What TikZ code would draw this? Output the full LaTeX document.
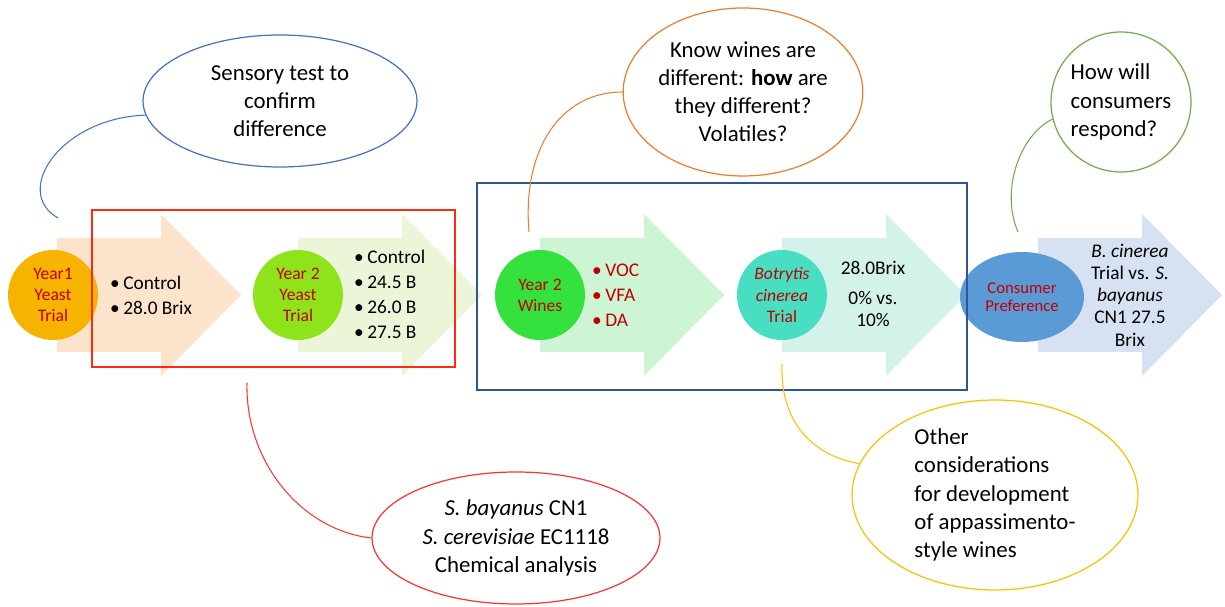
\documentclass[tikz,border=0pt]{standalone}
\usepackage{fontspec}
\setmainfont{Carlito}
\usetikzlibrary{shapes.geometric}
\definecolor{txtred}{HTML}{C00000}
\definecolor{arrowA}{HTML}{FCE4CC}
\definecolor{arrowB}{HTML}{EBF5D7}
\definecolor{arrowC}{HTML}{CEF5D3}
\definecolor{arrowD}{HTML}{D3F2EA}
\definecolor{arrowE}{HTML}{D6E1F1}
\definecolor{stageA}{HTML}{F6B300}
\definecolor{stageB}{HTML}{8FE31B}
\definecolor{stageC}{HTML}{34E13D}
\definecolor{stageD}{HTML}{47DEC2}
\definecolor{stageE}{HTML}{5B9BD5}
\definecolor{boxred}{HTML}{FF2A12}
\definecolor{boxblue}{HTML}{2F5597}
\definecolor{lnblue}{HTML}{4472C4}
\definecolor{lnorange}{HTML}{ED7D31}
\definecolor{lngreen}{HTML}{70AD47}
\definecolor{lnred}{HTML}{FF3333}
\definecolor{lnyellow}{HTML}{FFC000}

\begin{document}
\begin{tikzpicture}[x=0.02cm,y=-0.02cm,
    stage/.style={circle,minimum size=1.8cm,inner sep=0pt,align=center,text=txtred,font=\fontsize{10}{12}\selectfont},
    bullets/.style={anchor=west,align=left,font=\fontsize{11}{14.2}\selectfont},
    callout/.style={ellipse,draw,line width=0.7pt,inner sep=0pt,align=center,font=\fontsize{13}{16}\selectfont},
    link/.style={line width=0.6pt}]
  \useasboundingbox (0,0) rectangle (1225,607);

  \foreach \xs/\col in {57/arrowA,298/arrowB,540/arrowC,782/arrowD,1038/arrowE}
    \fill[\col] (\xs,238) -- (\xs+104,238) -- (\xs+104,214) -- (\xs+184,295) -- (\xs+104,376) -- (\xs+104,352) -- (\xs,352) -- cycle;

  \node[stage,fill=stageA] (y1) at (53,295) {Year1\\Yeast\\Trial};
  \node[stage,fill=stageB] (y2) at (298,295) {Year 2\\Yeast\\Trial};
  \node[stage,fill=stageC] (wn) at (540,295) {Year 2\\Wines};
  \node[stage,fill=stageD] (bc) at (782,295) {\textit{Botrytis}\\\textit{cinerea}\\Trial};
  \node[stage,ellipse,fill=stageE,minimum width=2.48cm,minimum height=1.8cm,font=\fontsize{9.5}{10}\selectfont] (cp) at (1022,297) {Consumer\\Preference};

  \node[bullets] (t1) at (104,295) {\textbullet\hspace{2pt}Control\\\textbullet\hspace{2pt}28.0 Brix};
  \node[bullets] (t2) at (348,294) {\textbullet\hspace{2pt}Control\\\textbullet\hspace{2pt}24.5 B\\\textbullet\hspace{2pt}26.0 B\\\textbullet\hspace{2pt}27.5 B};
  \node[bullets,text=txtred] (t3) at (586,295) {\textbullet\hspace{2pt}VOC\\\textbullet\hspace{2pt}VFA\\\textbullet\hspace{2pt}DA};
  \node[align=center,font=\fontsize{11}{12.7}\selectfont] (t4) at (873,294) {28.0Brix\\[4pt]0\% vs.\\10\%};
  \node[align=center,font=\fontsize{11}{12.7}\selectfont] (t5) at (1130,295) {\textit{B. cinerea}\\Trial vs. \textit{S.}\\\textit{bayanus}\\CN1 27.5\\Brix};

  \draw[boxred,line width=1.4pt] (92,210) rectangle (455,367);
  \draw[boxblue,line width=1.4pt] (477,183) rectangle (967,390);

  \node[callout,draw=lnblue,minimum width=5.48cm,minimum height=2.64cm] (sens) at (280,101) {Sensory test to\\confirm\\difference};
  \node[callout,draw=lnorange,minimum width=4.4cm,minimum height=3.36cm] (how) at (743,92) {Know wines are\\different: \textbf{how} are\\they different?\\Volatiles?};
  \node[callout,circle,draw=lngreen,minimum size=2.8cm,align=left] (cons) at (1121,102) {How will\\consumers\\respond?};
  \node[callout,draw=lnred,minimum width=5.76cm,minimum height=2.64cm] (chem) at (516,538) {\textit{S. bayanus} CN1\\\textit{S. cerevisiae} EC1118\\Chemical analysis};
  \node[callout,draw=lnyellow,minimum width=5.72cm,minimum height=3.8cm,align=left] (other) at (995,495) {Other\\considerations\\for development\\of appassimento-\\style wines};

  \coordinate (sensend) at (58,218);
  \coordinate (howend) at (529,232);
  \coordinate (consend) at (1018,232);
  \coordinate (chemend) at (247,383);
  \coordinate (otherend) at (782,364);
  \draw[link,lnblue] (sens.186) .. controls (60,118) and (12,192) .. (sensend);
  \draw[link,lnorange] (how.west) .. controls (560,92) and (522,150) .. (howend);
  \draw[link,lngreen] (cons.194) .. controls (1020,135) and (1000,190) .. (consend);
  \draw[link,lnred] (chem.west) .. controls (300,530) and (245,460) .. (chemend);
  \draw[link,lnyellow] (other.167) .. controls (810,455) and (780,420) .. (otherend);
\end{tikzpicture}
\end{document}
